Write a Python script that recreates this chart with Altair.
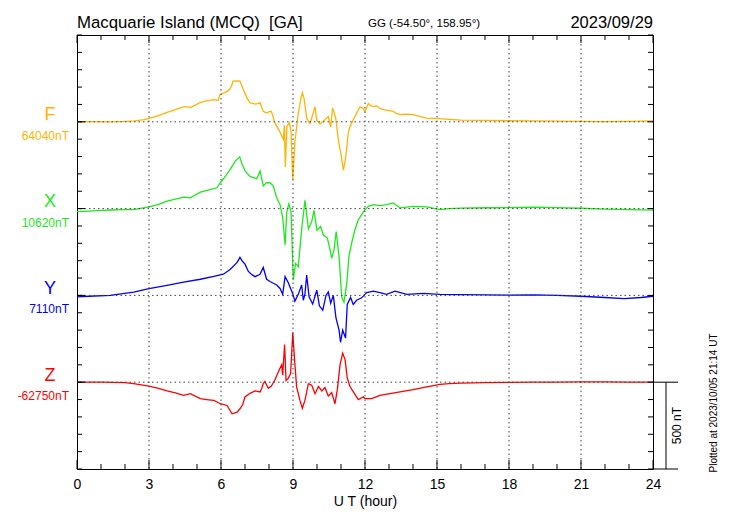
import altair as alt
import pandas as pd

# ---------------- data (hours, deviation from baseline in nT) ----------------
F_hours = [0, 0.7, 1.4, 2.0, 2.4, 2.8, 3.0, 3.4, 3.75, 4.1, 4.46, 4.6, 4.75, 5.125, 5.3, 5.5, 5.67, 5.88,
           5.96, 6.1, 6.25, 6.375, 6.45, 6.5, 6.65, 6.79, 6.93, 7.08, 7.21, 7.45, 7.63, 7.76, 7.9, 8.0,
           8.1, 8.25, 8.46, 8.6, 8.64, 8.68, 8.74, 8.85, 8.92, 8.99, 9.08, 9.15, 9.22, 9.32, 9.39, 9.46,
           9.57, 9.71, 9.85, 9.92, 9.99, 10.125, 10.33, 10.47, 10.57, 10.65, 10.72, 10.79, 10.89, 10.99,
           11.1, 11.2, 11.3, 11.375, 11.51, 11.65, 11.79, 11.9, 12.0, 12.14, 12.28, 12.49, 12.6, 12.76,
           12.95, 13.18, 13.3, 13.46, 13.7, 14.01, 14.3, 14.57, 15.1, 15.5, 16, 17, 18, 19, 20, 21, 22,
           23, 24]
F_dev = [0, 1, 0, 2, 5, 12, 20, 35, 54, 70, 87, 85, 83, 110, 118, 122, 128, 124,
         157, 165, 175, 190, 210, 234, 236, 234, 186, 138, 109, 102, 109, 60, 50, 58,
         60, -8, -60, -100, -20, -260, -30, -5, -60, -335, -115, -30, 50, 128, 167, 135,
         20, -10, 55, 87, 8, -12, 12, 31, -30, 80, 50, 12, -105, -180,
         -279, -200, -66, -27, 12, 50, 85, 80, 60, 105, 89, 92, 78, 70,
         66, 60, 48, 41, 44, 41, 30, 21, 18, 14, 10, 8, 6, 5, 4, 3, 1,
         3, 5]

X_hours = [0, 0.5, 1.0, 1.39, 2.0, 2.36, 3.0, 3.4, 3.75, 4.1, 4.44, 4.72, 5.14, 5.5, 5.83, 5.97, 6.2,
           6.39, 6.6, 6.78, 6.88, 7.0, 7.21, 7.49, 7.63, 7.76, 7.9, 8.04, 8.18, 8.32, 8.46, 8.57, 8.67,
           8.74, 8.83, 8.92, 9.01, 9.11, 9.22, 9.36, 9.5, 9.64, 9.78, 9.875, 10.0, 10.15, 10.26, 10.43,
           10.55, 10.61, 10.71, 10.8, 10.92, 11.03, 11.125, 11.24, 11.33, 11.44, 11.58, 11.72, 11.86,
           12.0, 12.14, 12.35, 12.625, 12.9, 13.18, 13.46, 14.0, 14.57, 15.125, 15.5, 16, 17, 18, 19,
           20, 21, 22, 23, 24]
X_dev = [-18, -14, -10, -8, -6, -6, 10, 25, 43, 55, 66, 62, 95, 108, 120, 149, 190,
         227, 275, 298, 256, 217, 185, 172, 217, 130, 150, 149, 130, 62, 23, -50, -209,
         -20, 28, -20, -410, -316, -335, -120, 48, -117, -75, -10, -125, -103, -151, -170,
         -240, -287, -238, -132, -277, -510, -539, -432, -277, -200, -122, -64, -35,
         -6, 13, 23, 17, 23, 33, 4, 13, 10, -6, 0, 3, 5, 6, 8,
         6, 2, -3, -6, -9]

Y_hours = [0, 0.5, 1.39, 2.36, 3.0, 3.75, 4.44, 5.14, 5.7, 6.1, 6.39, 6.67, 6.79, 6.9, 7.0, 7.14,
           7.3, 7.42, 7.625, 7.76, 7.9, 8.04, 8.18, 8.32, 8.46, 8.57, 8.67, 8.8, 8.9, 8.99, 9.08, 9.22,
           9.36, 9.43, 9.5, 9.57, 9.67, 9.82, 9.99, 10.1, 10.24, 10.375, 10.47, 10.57, 10.68, 10.79,
           10.92, 10.98, 11.07, 11.19, 11.26, 11.4, 11.51, 11.65, 11.86, 12.07, 12.35, 12.625, 12.9,
           13.25, 13.74, 14.43, 15.125, 16, 17, 18, 19, 20, 21, 22, 22.8, 23.5, 24]
Y_dev = [-8, -5, 0, 19, 39, 58, 77, 93, 109, 122, 151, 190, 219, 195, 180, 138,
         118, 108, 122, 161, 93, 80, 70, 60, 40, 6, 108, 74, 40, 10, -33, 6,
         60, -28, 10, 117, -8, -50, 30, -60, -85, 0, 20, -45, 0, -130,
         -200, -270, -200, -246, -52, -12, -52, -28, -14, 16, 25, 16, 6,
         25, 6, 12, 6, 5, 3, 2, 3, 0, -5, -12, -18, -12, -5]

Z_hours = [0, 1, 2, 2.36, 3.0, 3.4, 3.75, 4.1, 4.44, 4.72, 5.14, 5.4, 5.7, 5.97, 6.25, 6.46, 6.67,
           6.79, 6.9, 7.0, 7.21, 7.42, 7.625, 7.7, 7.76, 7.83, 7.97, 8.1, 8.25, 8.39, 8.53, 8.57, 8.65,
           8.71, 8.8, 8.9, 8.99, 9.05, 9.15, 9.29, 9.39, 9.5, 9.64, 9.78, 9.92, 10.06, 10.2, 10.33,
           10.47, 10.61, 10.75, 10.85, 10.96, 11.07, 11.17, 11.26, 11.375, 11.58, 11.72, 11.93, 12.0,
           12.28, 12.625, 13.04, 13.46, 14.0, 14.57, 15.125, 15.5, 16, 17, 18, 19, 20, 21, 22, 23, 24]
Z_dev = [0, 0, -3, -8, -23, -35, -50, -62, -76, -66, -95, -100, -105, -124, -134, -182, -173,
         -153, -130, -85, -64, -50, -56, -35, -8, 4, -35, -22, 14, 60, 101, 40, 217,
         10, 22, 50, 285, 160, -27, -105, -150, -103, -8, -17, -66, -25, -50, -30,
         -80, -60, -124, -40, 100, 167, 130, 25, -25, -70, -100, -84, -95,
         -95, -76, -66, -56, -43, -27, -12, -8, -5, -3, -1, 0, 1, 2, 2, 1, 1]

COMPONENTS = ["F", "X", "Y", "Z"]
OFFSETS = [1500, 1000, 500, 0]
BASE_LABELS = ["64040nT", "10620nT", "7110nT", "-62750nT"]
COLORS = ["#ffb400", "#1de81d", "#0000ff", "#ff0000"]

X_LABEL_HOURS = [0, 3, 6, 9, 12, 15, 18, 21, 24]
GRID_HOURS = [3, 6, 9, 12, 15, 18, 21]
MINOR_HOURS = [h for h in range(0, 25) if h % 3 != 0]
NT_TICKS = list(range(-500, 2001, 100))
SCALE_BAR = [0, -500]

TITLE = "Macquarie Island (MCQ)\u00a0\u00a0[GA]"
COORDS = "GG (-54.50°, 158.95°)"
DATE = "2023/09/29"
PLOTTED = "Plotted at 2023/10/05 21:14 UT"
SCALE_TEXT = "500 nT"

FONT = "Liberation Sans"

# ---------------- build tables ----------------
rows = []
for comp, hrs, devs, off in zip(COMPONENTS, [F_hours, X_hours, Y_hours, Z_hours],
                                [F_dev, X_dev, Y_dev, Z_dev], OFFSETS):
    for h, d in zip(hrs, devs):
        rows.append({"comp": comp, "hour": h, "v": off + d})
df = pd.DataFrame(rows)

lab_df = pd.DataFrame({"comp": COMPONENTS, "v": OFFSETS, "base": BASE_LABELS})

W, H = 576, 434
xs = alt.Scale(domain=[0, 24], nice=False, zero=False)
ys = alt.Scale(domain=[-500, 2000], nice=False, zero=False)
cs = alt.Scale(domain=COMPONENTS, range=COLORS)

xaxis = alt.Axis(values=X_LABEL_HOURS, ticks=False, domain=False, grid=False,
                 labelFontSize=14, labelPadding=8, labelColor="black", labelFont=FONT,
                 title="U T (hour)", titleFontSize=14, titleFontWeight="normal",
                 titleColor="black", titleFont=FONT, titlePadding=3, labelFlush=False)


def X(field):
    return alt.X(field, scale=xs, axis=xaxis)


def Y(field):
    return alt.Y(field, scale=ys, axis=None)


lines = alt.Chart(df).mark_line(strokeWidth=1.3, clip=True).encode(
    x=X("hour:Q"),
    y=Y("v:Q"),
    color=alt.Color("comp:N", scale=cs, legend=None),
)

grid_style = dict(color="#444444", strokeWidth=1, strokeDash=[1.5, 3])
vgrid = alt.Chart(pd.DataFrame({"h": GRID_HOURS})).mark_rule(**grid_style).encode(x=X("h:Q"))
hgrid = alt.Chart(pd.DataFrame({"v": OFFSETS})).mark_rule(**grid_style).encode(y=Y("v:Q"))

minor_df = pd.DataFrame({"h": MINOR_HOURS})
major_df = pd.DataFrame({"h": X_LABEL_HOURS})

bt_minor = alt.Chart(minor_df).mark_rule(color="black").encode(
    x=X("h:Q"), y=alt.value(H), y2=alt.value(H - 5))
bt_major = alt.Chart(major_df).mark_rule(color="black").encode(
    x=X("h:Q"), y=alt.value(H), y2=alt.value(H - 9))
tp_minor = alt.Chart(minor_df).mark_rule(color="black").encode(
    x=X("h:Q"), y=alt.value(0), y2=alt.value(5))
tp_major = alt.Chart(major_df).mark_rule(color="black").encode(
    x=X("h:Q"), y=alt.value(0), y2=alt.value(8))

nt_df = pd.DataFrame({"v": NT_TICKS})
lt = alt.Chart(nt_df).mark_rule(color="black").encode(
    y=Y("v:Q"), x=alt.value(0), x2=alt.value(5))
rt = alt.Chart(nt_df).mark_rule(color="black").encode(
    y=Y("v:Q"), x=alt.value(W), x2=alt.value(W - 5))
lt_base = alt.Chart(pd.DataFrame({"v": OFFSETS})).mark_rule(color="black").encode(
    y=Y("v:Q"), x=alt.value(0), x2=alt.value(8))

# scale bar (500 nT) to the right of the plot
sb_h = alt.Chart(pd.DataFrame({"v": SCALE_BAR})).mark_rule(color="black").encode(
    y=Y("v:Q"), x=alt.value(W), x2=alt.value(W + 25))
sb_v = alt.Chart(pd.DataFrame({"a": [SCALE_BAR[0]], "b": [SCALE_BAR[1]]})).mark_rule(color="black").encode(
    y=Y("a:Q"), y2="b:Q", x=alt.value(W + 13))
sb_t = alt.Chart(pd.DataFrame({"t": [SCALE_TEXT], "v": [sum(SCALE_BAR) / 2]})).mark_text(
    font=FONT, fontSize=12, angle=270, align="center", baseline="middle", color="black").encode(
    y=Y("v:Q"), x=alt.value(W + 24), text="t:N")

# component letters and base values
letters = alt.Chart(lab_df).mark_text(
    font=FONT, fontSize=18, align="center", baseline="alphabetic", dy=-1.5).encode(
    x=alt.value(-27), y=Y("v:Q"), text="comp:N",
    color=alt.Color("comp:N", scale=cs, legend=None))
bases = alt.Chart(lab_df).mark_text(
    font=FONT, fontSize=12, align="right", baseline="alphabetic", dy=18).encode(
    x=alt.value(-8), y=Y("v:Q"), text="base:N",
    color=alt.Color("comp:N", scale=cs, legend=None))


def label(txt, x, y, size, align="left", angle=0, baseline="alphabetic"):
    return alt.Chart(pd.DataFrame({"t": [txt]})).mark_text(
        font=FONT, fontSize=size, align=align, baseline=baseline, angle=angle,
        color="black").encode(text="t:N", x=alt.value(x), y=alt.value(y))


title = label(TITLE, 0, -7, 16.8)
coords = label(COORDS, 291, -8, 11.5)
date = label(DATE, W, -7, 16.5, align="right")
plotted = label(PLOTTED, 637, 368, 10, align="center", angle=270, baseline="middle")

chart = alt.layer(
    lines, vgrid, hgrid,
    bt_minor, bt_major, tp_minor, tp_major, lt, rt, lt_base,
    sb_h, sb_v, sb_t, letters, bases, title, coords, date, plotted,
).properties(
    width=W, height=H,
    autosize=alt.AutoSizeParams(type="none"),
    padding={"left": 69, "top": 27, "right": 69, "bottom": 43},
).configure(font=FONT).configure_view(stroke="black", strokeWidth=1)

chart.save("out.html", embed_options={"renderer": "svg", "actions": False})
